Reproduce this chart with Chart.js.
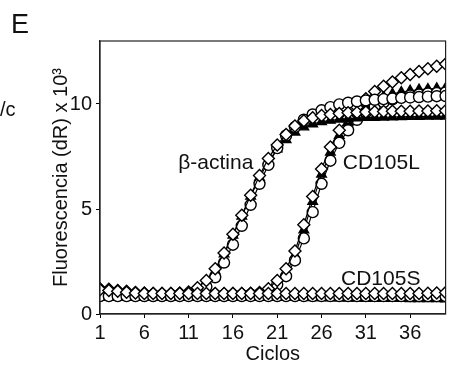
<!DOCTYPE html>
<html>
<head>
<meta charset="utf-8">
<script src="https://cdn.jsdelivr.net/npm/chart.js@4/dist/chart.umd.min.js"></script>
<style>
  html, body { margin: 0; padding: 0; background: #fff; }
  #wrap { width: 453px; height: 370px; }
</style>
</head>
<body>
<div id="wrap"><canvas id="chartE" width="453" height="370"></canvas></div>
<script>
// ciclos 1..40
var ciclos = [1,2,3,4,5,6,7,8,9,10,11,12,13,14,15,16,17,18,19,20,
              21,22,23,24,25,26,27,28,29,30,31,32,33,34,35,36,37,38,39,40];
var xTicks = [1, 6, 11, 16, 21, 26, 31, 36];
var yTicks = [0, 5, 10];

// beta-actina
var actinaDia = [1.2,1.18,1.12,1.08,1.03,1.0,0.98,0.98,0.98,1.0,1.05,1.25,1.6,2.15,2.9,3.8,4.7,5.65,6.6,7.4,
                 8.05,8.55,8.95,9.2,9.35,9.45,9.5,9.55,9.58,9.6,9.62,9.63,9.64,9.65,9.66,9.66,9.67,9.67,9.68,9.68];
var actinaCirc = [0.9,0.9,0.88,0.88,0.88,0.88,0.88,0.88,0.88,0.89,0.9,1.05,1.3,1.75,2.45,3.3,4.2,5.2,6.2,7.1,
                  7.9,8.5,8.9,9.25,9.5,9.7,9.85,9.98,10.06,10.12,10.17,10.2,10.23,10.26,10.29,10.31,10.33,10.35,10.37,10.38];
var actinaTri = [0.85,0.85,0.85,0.85,0.85,0.85,0.85,0.85,0.85,0.86,0.9,1.15,1.5,2.05,2.85,3.75,4.65,5.6,6.5,7.25,
                 7.85,8.3,8.65,8.9,9.05,9.15,9.22,9.27,9.3,9.33,9.35,9.36,9.37,9.38,9.39,9.4,9.4,9.41,9.41,9.42];

// CD105L
var cd105LDia = [1.18,1.15,1.1,1.05,1.0,0.98,0.97,0.97,0.97,0.97,0.97,0.97,0.97,0.97,0.97,0.98,0.98,0.99,1.02,1.2,
                 1.6,2.15,3.0,4.25,5.6,6.9,7.95,8.75,9.35,9.85,10.25,10.6,10.85,11.05,11.25,11.4,11.55,11.68,11.8,11.9];
var cd105LCirc = [0.9,0.9,0.9,0.9,0.9,0.9,0.9,0.9,0.9,0.9,0.9,0.9,0.9,0.9,0.9,0.9,0.9,0.92,0.95,1.1,
                  1.4,1.8,2.55,3.6,4.85,6.2,7.3,8.15,8.75,9.25,9.6,9.88,10.08,10.22,10.32,10.4,10.45,10.5,10.52,10.55];
var cd105LTri = [0.85,0.85,0.85,0.85,0.85,0.85,0.85,0.85,0.85,0.85,0.85,0.85,0.85,0.85,0.85,0.85,0.86,0.88,0.92,1.05,
                 1.45,1.95,2.8,4.0,5.35,6.65,7.7,8.5,9.1,9.55,9.9,10.15,10.35,10.48,10.57,10.63,10.68,10.71,10.74,10.76];

// CD105S
var cd105SDia = [1.15,1.12,1.08,1.04,1.0,0.98,0.98,0.98,0.98,0.98,0.98,0.98,0.98,0.98,0.98,0.98,0.98,0.98,0.98,0.98,
                 0.98,0.98,0.98,0.98,0.98,0.98,0.98,0.98,0.98,0.98,0.98,0.98,0.98,0.98,0.98,0.98,0.98,0.99,1.0,1.02];
var cd105SCirc = [0.85,0.85,0.85,0.85,0.85,0.85,0.85,0.85,0.85,0.85,0.85,0.85,0.85,0.85,0.85,0.85,0.85,0.85,0.85,0.85,
                  0.85,0.85,0.85,0.85,0.85,0.85,0.85,0.85,0.85,0.85,0.85,0.85,0.85,0.85,0.85,0.85,0.85,0.85,0.85,0.85];
var cd105STri = [0.8,0.8,0.8,0.8,0.8,0.8,0.8,0.8,0.8,0.8,0.8,0.8,0.8,0.8,0.8,0.8,0.8,0.8,0.8,0.8,
                 0.79,0.79,0.78,0.78,0.77,0.77,0.76,0.76,0.75,0.75,0.74,0.74,0.73,0.73,0.73,0.72,0.72,0.72,0.72,0.71];

var FONT = "'Liberation Sans', Arial, sans-serif";

function serie(values, style) {
  var pts = values.map(function (v, i) { return { x: ciclos[i], y: v }; });
  var ds = {
    data: pts,
    borderColor: '#000',
    borderWidth: 1.2,
    pointBorderColor: '#000',
    pointBorderWidth: 1.4,
    pointStyle: style,
    pointRadius: 5.5,
    pointBackgroundColor: '#fff'
  };
  if (style === 'triangle') { ds.pointBackgroundColor = '#000'; ds.pointRadius = 5.5; }
  if (style === 'rectRot') { ds.pointRadius = 6; }
  return ds;
}

// frame + text labels
var extras = {
  id: 'extras',
  afterDatasetsDraw: function (chart) {
    var c = chart.ctx, a = chart.chartArea;
    var sx = chart.scales.x, sy = chart.scales.y;
    c.save();
    c.strokeStyle = '#222';
    c.lineWidth = 1.2;
    c.strokeRect(a.left, a.top, a.right - a.left, a.bottom - a.top);
    c.fillStyle = '#111';
    c.font = '21px ' + FONT;
    c.textBaseline = 'middle';
    c.textAlign = 'right';
    c.fillText('\u03B2-actina', sx.getPixelForValue(18.3), sy.getPixelForValue(7.2));
    c.textAlign = 'left';
    c.fillText('CD105L', sx.getPixelForValue(28.4), sy.getPixelForValue(7.2));
    c.fillText('CD105S', sx.getPixelForValue(28.2), sy.getPixelForValue(1.66));
    c.restore();
  },
  afterDraw: function (chart) {
    var c = chart.ctx;
    c.save();
    c.fillStyle = '#111';
    c.textBaseline = 'alphabetic';
    c.textAlign = 'left';
    c.font = '27px ' + FONT;
    c.fillText('E', 11, 33);
    c.font = '20px ' + FONT;
    c.fillText('/c', 0, 116);
    c.restore();
  }
};

new Chart(document.getElementById('chartE'), {
  type: 'line',
  data: {
    datasets: [
      serie(cd105SDia, 'rectRot'),
      serie(cd105SCirc, 'circle'),
      serie(cd105STri, 'triangle'),
      serie(actinaDia, 'rectRot'),
      serie(actinaCirc, 'circle'),
      serie(actinaTri, 'triangle'),
      serie(cd105LDia, 'rectRot'),
      serie(cd105LCirc, 'circle'),
      serie(cd105LTri, 'triangle')
    ]
  },
  options: {
    responsive: false,
    animation: false,
    layout: { padding: { left: 49, right: 5, top: 41, bottom: 0 } },
    plugins: { legend: { display: false }, tooltip: { enabled: false } },
    elements: { line: { tension: 0 } },
    scales: {
      x: {
        type: 'linear',
        min: 1,
        max: 40,
        afterBuildTicks: function (s) { s.ticks = xTicks.map(function (v) { return { value: v }; }); },
        afterFit: function (s) { s.height = 56; },
        grid: { drawOnChartArea: false, tickLength: 4, color: '#000' },
        border: { color: '#222', width: 1.2 },
        ticks: { color: '#111', padding: 3, maxRotation: 0, autoSkip: false, font: { family: FONT, size: 20 } },
        title: { display: true, text: 'Ciclos', color: '#111', padding: { top: 0, bottom: 4 }, font: { family: FONT, size: 20 } }
      },
      y: {
        min: 0,
        max: 13,
        afterBuildTicks: function (s) { s.ticks = yTicks.map(function (v) { return { value: v }; }); },
        afterFit: function (s) { s.width = 51; },
        grid: { drawOnChartArea: false, tickLength: 4, color: '#000' },
        border: { color: '#222', width: 1.2 },
        ticks: { color: '#111', padding: 4, font: { family: FONT, size: 20 } },
        title: { display: true, text: 'Fluorescencia (dR) x 10\u00B3', color: '#111', padding: { top: 0, bottom: 0 }, font: { family: FONT, size: 20 } }
      }
    }
  },
  plugins: [extras]
});
</script>
</body>
</html>
